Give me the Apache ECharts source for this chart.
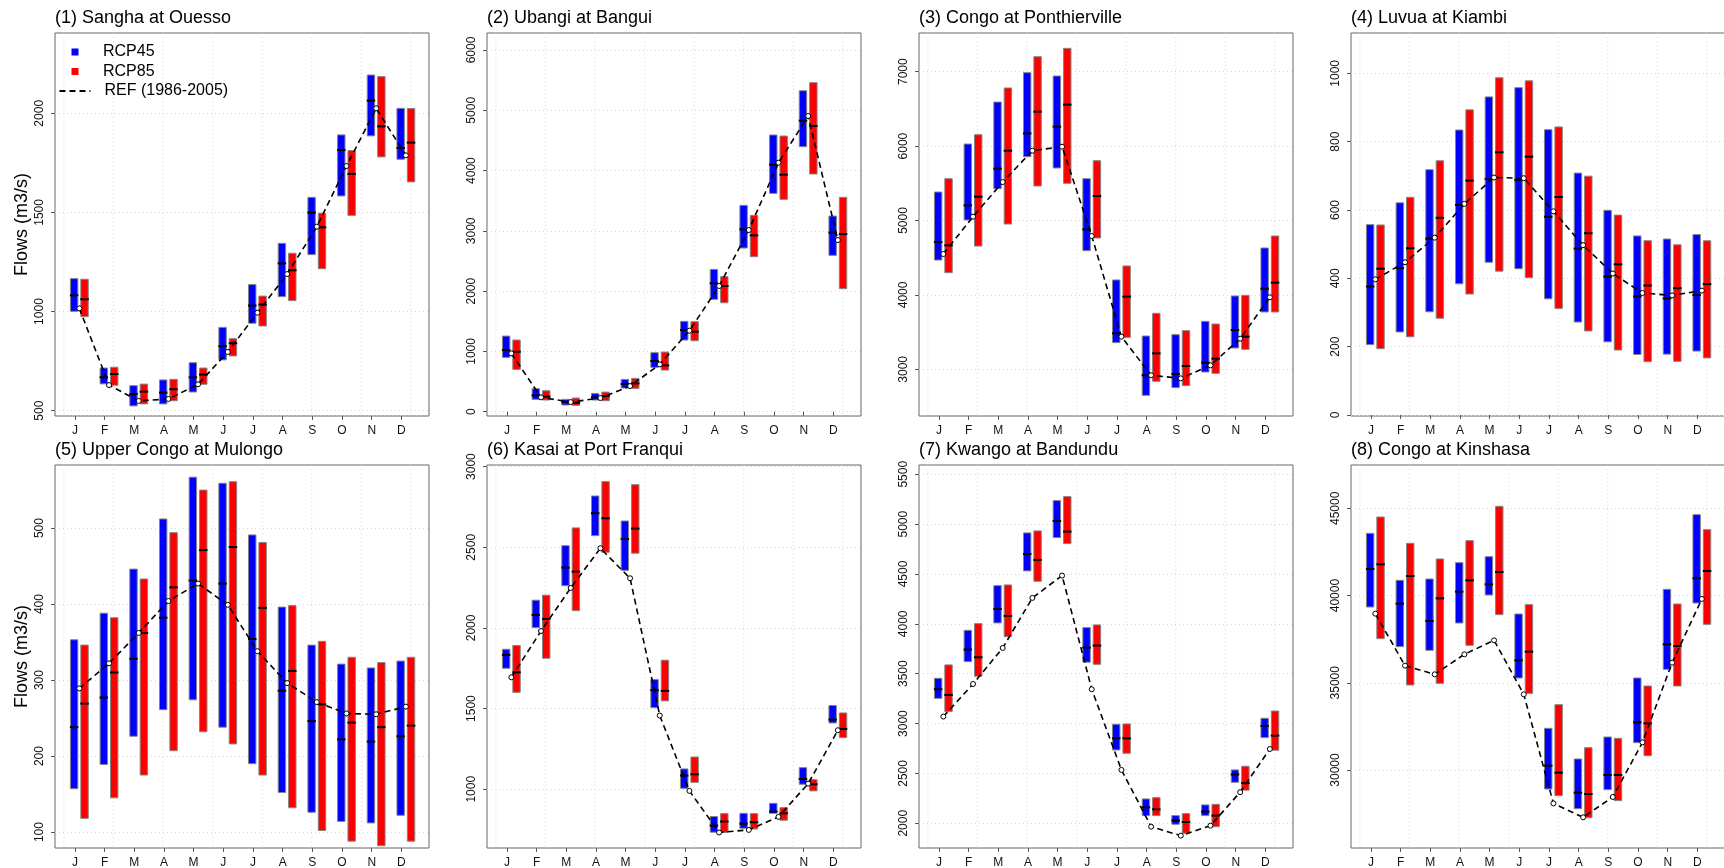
<!DOCTYPE html>
<html><head><meta charset="utf-8">
<script src="https://cdn.jsdelivr.net/npm/echarts@6/dist/echarts.min.js"></script>
<style>html,body{margin:0;padding:0;background:#fff}#c{width:1724px;height:868px}</style>
</head><body><div id="c"></div>
<script>
// ---------- data ----------
const MONTHS = ['J','F','M','A','M','J','J','A','S','O','N','D'];
const MONTH_IDX = [1,2,3,4,5,6,7,8,9,10,11,12];
const TITLES = ['(1) Sangha at Ouesso','(2) Ubangi at Bangui','(3) Congo at Ponthierville','(4) Luvua at Kiambi',
  '(5) Upper Congo at Mulongo','(6) Kasai at Port Franqui','(7) Kwango at Bandundu','(8) Congo at Kinshasa'];
const Y_MIN = [473, -71, 2373, -3, 79, 636, 1752, 25529];
const Y_MAX = [2405, 6282, 7520, 1118, 583, 3010, 5593, 47483];
const Y_TICKS = [[500,1000,1500,2000],[0,1000,2000,3000,4000,5000,6000],[3000,4000,5000,6000,7000],
  [0,200,400,600,800,1000],[100,200,300,400,500],[1000,1500,2000,2500,3000],
  [2000,2500,3000,3500,4000,4500,5000,5500],[30000,35000,40000,45000]];
const V_GRID = [0.63, 2.30, 3.97, 5.64, 7.31, 8.98, 10.65, 12.31];

// (1) Sangha at Ouesso
const p1R45Max = [1166,715,626,655,742,920,1136,1344,1576,1891,2193,2025];
const p1R45Min = [1001,635,524,534,594,756,941,1075,1287,1583,1886,1768];
const p1R45Med = [1082,668,584,591,668,825,1030,1243,1499,1815,2064,1825];
const p1R85Max = [1163,719,634,658,715,863,1078,1294,1496,1812,2185,2024];
const p1R85Min = [974,628,534,550,633,776,927,1055,1216,1485,1780,1654];
const p1R85Med = [1062,685,596,608,682,840,1035,1208,1425,1694,1934,1852];
const p1Ref    = [1016,629,549,559,633,796,994,1189,1428,1734,2025,1788];
// (2) Ubangi at Bangui
const p2R45Max = [1255,382,205,304,536,979,1499,2361,3423,4590,5325,3246];
const p2R45Min = [901,205,111,194,393,735,1189,1864,2715,3622,4396,2594];
const p2R45Med = [1023,271,160,238,459,841,1355,2129,3025,4098,4828,2970];
const p2R85Max = [1189,348,227,326,553,990,1493,2240,3257,4573,5458,3556];
const p2R85Min = [702,194,105,182,387,691,1178,1808,2571,3523,3943,2041];
const p2R85Med = [995,249,149,260,470,769,1327,2085,2925,3932,4739,2947];
const p2Ref    = [968,238,160,227,426,785,1344,2085,3014,4131,4905,2848];
// (3) Congo at Ponthierville
const p3R45Max = [5383,6028,6592,6987,6942,5562,4201,3448,3466,3645,3986,4631];
const p3R45Min = [4469,5007,5428,5858,5706,4595,3359,2651,2754,2964,3287,3771];
const p3R45Med = [4711,5204,5697,6171,6261,4881,3484,2920,2938,3090,3529,4084];
const p3R85Max = [5562,6153,6781,7202,7314,5804,4389,3753,3520,3609,3995,4792];
const p3R85Min = [4299,4657,4953,5464,5500,4765,3430,2839,2781,2946,3269,3771];
const p3R85Med = [4666,5320,5938,6463,6557,5329,3977,3215,3045,3144,3439,4165];
const p3Ref    = [4550,5052,5517,5938,5992,4792,3439,2920,2879,3054,3412,3968];
// (4) Luvua at Kiambi
const p4R45Max = [557,621,718,834,931,958,835,708,599,524,515,528];
const p4R45Min = [206,243,302,384,447,428,340,272,214,177,178,187];
const p4R45Med = [376,430,516,615,691,688,580,487,405,347,341,351];
const p4R85Max = [556,637,744,893,987,978,843,699,585,510,498,510];
const p4R85Min = [194,229,283,354,421,402,312,246,190,156,157,167];
const p4R85Med = [428,488,577,686,769,756,638,532,441,379,371,383];
const p4Ref    = [397,447,519,618,695,693,596,497,414,357,350,364];
// (5) Upper Congo at Mulongo
const p5R45Max = [353,388,446,512,567,559,491,396,346,321,316,325];
const p5R45Min = [157,189,226,261,274,238,190,152,126,114,112,122];
const p5R45Med = [238,277,328,382,431,427,354,286,246,222,219,226];
const p5R85Max = [346,382,433,494,550,561,481,398,351,330,323,330];
const p5R85Min = [118,145,175,207,232,216,175,132,102,88,82,88];
const p5R85Med = [269,310,362,422,471,475,395,312,268,244,238,240];
const p5Ref    = [289,322,362,404,427,399,338,296,271,256,255,265];
// (6) Kasai at Port Franqui
const p6R45Max = [1868,2172,2510,2818,2663,1680,1126,831,851,913,1134,1519];
const p6R45Min = [1750,2002,2262,2572,2357,1506,1006,734,758,851,1031,1411];
const p6R45Med = [1833,2081,2374,2711,2552,1614,1085,775,787,862,1064,1432];
const p6R85Max = [1891,2203,2620,2907,2888,1800,1200,849,849,886,1060,1473];
const p6R85Min = [1601,1812,2107,2469,2463,1548,1043,732,754,808,990,1320];
const p6R85Med = [1725,2056,2349,2680,2616,1610,1093,800,796,851,1031,1374];
const p6Ref    = [1694,1981,2248,2494,2308,1457,990,732,748,829,1035,1366];
// (7) Kwango at Bandundu
const p7R45Max = [3454,3935,4383,4912,5236,3962,2993,2244,2077,2184,2535,3053];
const p7R45Min = [3253,3621,4009,4531,4865,3615,2735,2077,1990,2077,2411,2859];
const p7R45Med = [3344,3742,4149,4701,5032,3762,2852,2160,2027,2117,2489,2976];
const p7R85Max = [3588,4002,4390,4932,5276,3989,2996,2257,2097,2190,2572,3126];
const p7R85Min = [3120,3474,3872,4427,4805,3594,2702,2077,1900,1966,2332,2732];
const p7R85Med = [3287,3665,4079,4641,4925,3782,2852,2140,2013,2077,2403,2879];
const p7Ref    = [3070,3397,3758,4260,4484,3344,2535,1966,1876,1976,2312,2745];
// (8) Congo at Kinshasa
const p8R45Max = [43567,40873,40949,41885,42229,38943,32389,30631,31892,35274,40357,44637];
const p8R45Min = [39344,37070,36860,38427,40032,35274,28911,27784,28873,31567,35771,39573];
const p8R45Med = [41522,39535,38541,40223,40643,36287,30249,28701,29714,32733,37204,40987];
const p8R85Max = [44503,42994,42096,43147,45115,39478,33746,31280,31815,34815,39516,43777];
const p8R85Min = [37529,34873,34968,37147,38905,34395,28529,27268,28242,30819,34815,38350];
const p8R85Med = [41790,41121,39841,40873,41350,36783,29848,28624,29714,32675,37108,41408];
const p8Ref    = [38962,35981,35484,36631,37433,34337,28086,27287,28453,31586,36153,39803];

const PANELS = [
  [p1R45Min,p1R45Med,p1R45Max,p1R85Min,p1R85Med,p1R85Max,p1Ref],
  [p2R45Min,p2R45Med,p2R45Max,p2R85Min,p2R85Med,p2R85Max,p2Ref],
  [p3R45Min,p3R45Med,p3R45Max,p3R85Min,p3R85Med,p3R85Max,p3Ref],
  [p4R45Min,p4R45Med,p4R45Max,p4R85Min,p4R85Med,p4R85Max,p4Ref],
  [p5R45Min,p5R45Med,p5R45Max,p5R85Min,p5R85Med,p5R85Max,p5Ref],
  [p6R45Min,p6R45Med,p6R45Max,p6R85Min,p6R85Med,p6R85Max,p6Ref],
  [p7R45Min,p7R45Med,p7R45Max,p7R85Min,p7R85Med,p7R85Max,p7Ref],
  [p8R45Min,p8R45Med,p8R45Max,p8R85Min,p8R85Med,p8R85Max,p8Ref]
];

// ---------- layout / style ----------
const FONT = "'Liberation Sans', Arial, Helvetica, sans-serif";
const GRID_LEFT = [55, 487, 919, 1351];
const ROW_TOP = [33, 465];
const TITLE_TOP = [9, 441];
const PLOT_W = 374, PLOT_H = 383;
const X_MIN = 0.33, X_MAX = 12.93;
const R45_OFF = [-0.15, 0.10], R85_OFF = [0.20, 0.45], REF_OFF = 0.15;
const BLUE = '#0000ff', RED = '#ff0000';
const AXIS_COL = '#555', GRID_COL = '#d8d8d8';

function barSeries(name, color, off, gi, mins, meds, maxs) {
  return {
    type: 'custom', name, xAxisIndex: gi, yAxisIndex: gi, z: 3, silent: true,
    itemStyle: { color },
    encode: { x: 0, y: [1, 3] },
    data: mins.map((m, k) => [MONTH_IDX[k], m, meds[k], maxs[k]]),
    renderItem(params, api) {
      const x = api.value(0);
      const tl = api.coord([x + off[0], api.value(3)]);
      const br = api.coord([x + off[1], api.value(1)]);
      const ml = api.coord([x + off[0], api.value(2)]);
      const mr = api.coord([x + off[1], api.value(2)]);
      return { type: 'group', children: [
        { type: 'rect', shape: { x: tl[0], y: tl[1], width: br[0] - tl[0], height: br[1] - tl[1] },
          style: { fill: color, stroke: '#858585', lineWidth: 1 } },
        { type: 'line', shape: { x1: ml[0] - 0.5, y1: ml[1], x2: mr[0] + 0.5, y2: mr[1] },
          style: { stroke: '#000', lineWidth: 2 } }
      ]};
    }
  };
}

const grids = [], xAxes = [], yAxes = [], series = [], titles = [];
PANELS.forEach((p, i) => {
  const row = Math.floor(i / 4), col = i % 4;
  grids.push({ left: GRID_LEFT[col], top: ROW_TOP[row], width: PLOT_W, height: PLOT_H,
    show: true, borderColor: '#666', borderWidth: 1, backgroundColor: '#fff',
    containLabel: false, outerBoundsMode: 'none' });
  titles.push({ text: TITLES[i], left: GRID_LEFT[col], top: TITLE_TOP[row], padding: 0,
    textStyle: { fontSize: 18, fontWeight: 'normal', color: '#000', fontFamily: FONT } });
  xAxes.push({ gridIndex: i, type: 'value', min: X_MIN, max: X_MAX,
    axisLine: { show: false },
    axisTick: { show: true, customValues: MONTH_IDX, length: 4, lineStyle: { color: AXIS_COL } },
    axisLabel: { show: true, customValues: MONTH_IDX, formatter: v => MONTHS[v - 1],
      fontSize: 12, color: '#111', margin: 9, fontFamily: FONT },
    splitLine: { show: false } });
  yAxes.push({ gridIndex: i, type: 'value', min: Y_MIN[i], max: Y_MAX[i],
    axisLine: { show: false },
    axisTick: { show: true, customValues: Y_TICKS[i], length: 4, lineStyle: { color: AXIS_COL } },
    axisLabel: { show: true, customValues: Y_TICKS[i], rotate: 90, fontSize: 12, color: '#111',
      margin: 9, fontFamily: FONT, formatter: v => String(v) },
    splitLine: { show: true, lineStyle: { color: GRID_COL, type: [1, 3], width: 1 } },
    name: col === 0 ? 'Flows (m3/s)' : '', nameLocation: 'middle', nameGap: 24,
    nameTextStyle: { fontSize: 18, color: '#000', fontFamily: FONT } });
  // vertical dotted grid
  series.push({ type: 'custom', xAxisIndex: i, yAxisIndex: i, z: 1, silent: true,
    data: V_GRID.map(v => [v, Y_MIN[i]]),
    encode: { x: 0, y: 1 },
    renderItem(params, api) {
      const cs = params.coordSys;
      const px = api.coord([api.value(0), api.value(1)])[0];
      return { type: 'line', shape: { x1: px, y1: cs.y, x2: px, y2: cs.y + cs.height },
        style: { stroke: GRID_COL, lineWidth: 1, lineDash: [1, 3] } };
    } });
  series.push(barSeries('RCP45', BLUE, R45_OFF, i, p[0], p[1], p[2]));
  series.push(barSeries('RCP85', RED, R85_OFF, i, p[3], p[4], p[5]));
  series.push({ type: 'line', name: 'REF (1986-2005)', xAxisIndex: i, yAxisIndex: i, z: 4, silent: true,
    data: p[6].map((v, k) => [MONTH_IDX[k] + REF_OFF, v]),
    symbol: 'circle', symbolSize: 5,
    itemStyle: { color: '#fff', borderColor: '#000', borderWidth: 1 },
    lineStyle: { color: '#000', width: 1.6, type: [6, 4] } });
});

const LEG_TEXT = { fontSize: 16, color: '#000', fontFamily: FONT };
const option = {
  animation: false,
  backgroundColor: '#fff',
  textStyle: { fontFamily: FONT },
  title: titles,
  grid: grids,
  xAxis: xAxes,
  yAxis: yAxes,
  legend: [
    { left: 71.5, top: 44, orient: 'vertical', padding: 0, itemWidth: 7, itemHeight: 7, itemGap: 3.5,
      selectedMode: false, textStyle: Object.assign({ padding: [0, 0, 0, 19.5] }, LEG_TEXT),
      data: [ { name: 'RCP45', icon: 'rect' }, { name: 'RCP85', icon: 'rect' } ] },
    { left: 58.5, top: 83, orient: 'vertical', padding: 0, itemWidth: 31, itemHeight: 7,
      selectedMode: false, textStyle: Object.assign({ padding: [0, 0, 0, 9] }, LEG_TEXT),
      data: [ { name: 'REF (1986-2005)', itemStyle: { opacity: 0 } } ] }
  ],
  series
};
const chart = echarts.init(document.getElementById('c'));
chart.setOption(option);
</script></body></html>
